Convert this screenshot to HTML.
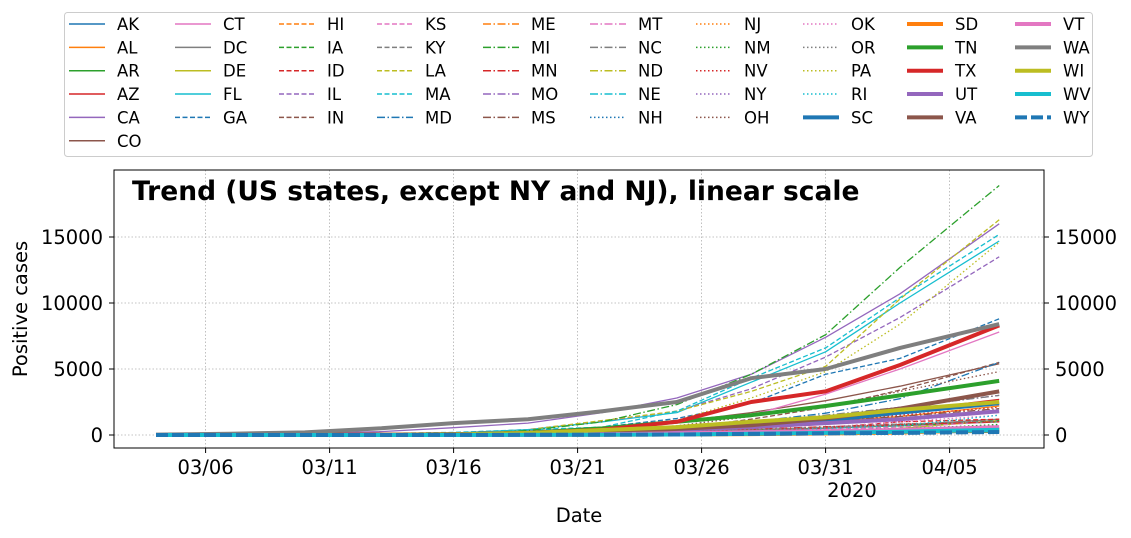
<!DOCTYPE html>
<html><head><meta charset="utf-8">
<style>
body{margin:0;background:#fff;}
svg{display:block;font-family:"DejaVu Sans","Liberation Sans",sans-serif;}
</style></head>
<body>
<svg id="chart" width="1131" height="538" viewBox="0 0 1131 538" xmlns="http://www.w3.org/2000/svg">
<rect x="0" y="0" width="1131" height="538" fill="#fff"/>
<g id="grid"></g>
<g id="series"></g>
<rect x="114" y="170" width="930" height="278" fill="none" stroke="#000" stroke-width="1"/>
<g id="axes"></g>
<text x="132" y="200" font-size="26.5" font-weight="bold">Trend (US states, except NY and NJ), linear scale</text>
<text transform="translate(27,309) rotate(-90)" text-anchor="middle" font-size="19.5">Positive cases</text>
<text x="579" y="522" text-anchor="middle" font-size="19.5">Date</text>
<text x="852" y="497" text-anchor="middle" font-size="19.5">2020</text>
<rect x="64.5" y="12.5" width="1028" height="144" rx="3" fill="#fff" stroke="#ccc"/>
<g id="legend"></g>
</svg>
<script>
const days = [0,3,6,9,12,15,18,21,24,27,30,34]; // days since 03/04
const states = ["AK","AL","AR","AZ","CA","CO","CT","DC","DE","FL","GA","HI","IA","ID","IL","IN","KS","KY","LA","MA","MD","ME","MI","MN","MO","MS","MT","NC","ND","NE","NH","NJ","NM","NV","NY","OH","OK","OR","PA","RI","SC","SD","TN","TX","UT","VA","VT","WA","WI","WV","WY"];
const vAK=[0,0,0,1,3,12,30,70,110,130,160,200];
const vAL=[0,0,0,5,30,70,200,400,750,1000,1400,2200];
const vAR=[0,0,0,5,20,60,150,300,410,520,700,1000];
const vAZ=[0,0,1,9,20,40,150,400,770,1300,1800,2700];
const vCA=[50,80,130,250,550,900,1700,2800,4600,7400,10700,16000];
const vCO=[0,2,15,50,130,280,600,1000,1700,2600,3700,5400];
const vCT=[0,0,1,5,40,100,330,1000,1500,3100,5000,7800];
const vDC=[0,0,2,10,20,70,120,230,340,500,750,1200];
const vDE=[0,0,0,1,10,30,60,120,230,320,500,1100];
const vFL=[3,10,20,50,150,400,1000,1700,4000,6300,10000,14700];
const vGA=[2,5,15,40,120,290,600,1250,2400,4600,5800,8800];
const vHI=[0,0,0,2,7,20,50,100,150,220,320,400];
const vIA=[0,0,10,15,20,40,90,150,300,420,620,1100];
const vID=[0,0,0,0,5,20,50,120,260,530,1000,1200];
const vIL=[4,7,15,50,100,420,1050,1800,3500,5900,8900,13500];
const vIN=[0,1,5,15,30,60,200,480,1200,2100,3400,5500];
const vKS=[0,0,1,5,10,40,70,130,260,430,620,1000];
const vKY=[0,0,5,15,25,40,100,160,400,590,830,1000];
const vLA=[0,0,1,30,140,400,1100,1800,3300,5200,10300,16300];
const vMA=[2,8,90,120,200,400,600,1800,4300,6600,10400,15200];
const vMD=[0,2,6,12,40,110,250,420,990,1650,2750,5500];
const vME=[0,0,0,1,15,50,100,150,220,300,380,500];
const vMI=[0,0,2,20,50,330,1000,2300,4600,7600,12700,18900];
const vMN=[0,1,3,15,50,120,170,290,440,630,790,1000];
const vMO=[0,0,1,2,10,50,150,350,840,1350,2100,3000];
const vMS=[0,0,0,1,10,50,200,380,670,1070,1400,2000];
const vMT=[0,0,0,2,7,15,30,60,150,200,270,330];
const vNC=[1,2,7,17,40,100,300,600,1000,1500,2100,3000];
const vND=[0,0,0,1,1,20,30,40,90,130,170,250];
const vNE=[0,0,3,10,18,30,40,60,100,170,250,500];
const vNH=[0,2,4,7,15,40,70,140,210,370,500,750];
const vNJ=null;
const vNM=[0,0,0,3,15,35,60,110,210,300,420,800];
const vNV=[0,0,3,10,50,100,200,320,740,1100,1500,2100];
const vNY=null;
const vOH=[0,0,0,5,50,120,350,700,1400,2200,3300,4800];
const vOK=[0,0,1,2,10,40,60,200,400,600,1000,1500];
const vOR=[0,0,10,30,50,80,140,250,400,600,830,1100];
const vPA=[0,0,10,40,80,190,500,1100,2800,4800,8400,14600];
const vRI=[0,2,3,8,20,40,80,140,250,490,700,1500];
const vSC=[0,0,2,12,30,80,200,420,770,1100,1700,2400];
const vSD=[0,0,0,9,10,11,20,40,70,110,190,400];
const vTN=[0,1,3,20,50,150,500,1000,1500,2200,3000,4100];
const vTX=[1,3,15,40,60,150,400,1000,2500,3300,5300,8300];
const vUT=[0,0,0,5,30,80,180,400,600,900,1200,1800];
const vVA=[0,1,10,20,50,100,220,460,740,1250,2000,3300];
const vVT=[0,0,1,2,10,20,50,120,210,290,390,600];
const vWA=[30,100,200,500,900,1200,1800,2500,4300,5000,6600,8400];
const vWI=[0,0,1,10,40,150,380,600,1000,1350,1900,2500];
const vWV=[0,0,0,0,1,5,15,40,100,160,250,400];
const vWY=[0,0,0,0,5,15,25,40,80,120,160,230];
const values={AK:vAK,AL:vAL,AR:vAR,AZ:vAZ,CA:vCA,CO:vCO,CT:vCT,DC:vDC,DE:vDE,FL:vFL,GA:vGA,HI:vHI,IA:vIA,ID:vID,IL:vIL,IN:vIN,KS:vKS,KY:vKY,LA:vLA,MA:vMA,MD:vMD,ME:vME,MI:vMI,MN:vMN,MO:vMO,MS:vMS,MT:vMT,NC:vNC,ND:vND,NE:vNE,NH:vNH,NJ:vNJ,NM:vNM,NV:vNV,NY:vNY,OH:vOH,OK:vOK,OR:vOR,PA:vPA,RI:vRI,SC:vSC,SD:vSD,TN:vTN,TX:vTX,UT:vUT,VA:vVA,VT:vVT,WA:vWA,WI:vWI,WV:vWV,WY:vWY};
const yTicks=[0,5000,10000,15000];
const xTickDays=[2,7,12,17,22,27,32];
const xTickLabels=["03/06","03/11","03/16","03/21","03/26","03/31","04/05"];

const NS="http://www.w3.org/2000/svg";
const colors=["#1f77b4","#ff7f0e","#2ca02c","#d62728","#9467bd","#8c564b","#e377c2","#7f7f7f","#bcbd22","#17becf"];
const styles=[{w:1.3,d:null},{w:1.3,d:"5,2.5"},{w:1.3,d:"8,2.5,1.5,2.5"},{w:1.3,d:"1.5,2.5"},{w:4,d:null},{w:4,d:"12,4"}];
const xS=d=>156+d*24.8;
const yS=v=>435-v*0.0132;
function mk(tag,attrs,parent){const e=document.createElementNS(NS,tag);for(const k in attrs)e.setAttribute(k,attrs[k]);parent.appendChild(e);return e;}
const grid=document.getElementById('grid'),axes=document.getElementById('axes'),ser=document.getElementById('series'),leg=document.getElementById('legend');
yTicks.forEach(t=>{const y=yS(t);
 const g=mk('line',{x1:114,x2:1044,y1:y,y2:y,stroke:'#b0b0b0','stroke-width':0.8,'stroke-dasharray':'1.5,2'},grid);
 
 
 [[109,114,1055,'end'],[1044,1049,1055,'start']].forEach(([a,b,tx,an])=>{
  const l=mk('line',{x1:a,x2:b,y1:y,y2:y,stroke:'#000'},axes);
  
  
  const tt=mk('text',{x:an==='end'?103:tx,y:y+7,'text-anchor':an,'font-size':19.5},axes);
  tt.textContent=t;
  
  
 });
});
xTickDays.forEach((d,i)=>{const x=xS(d);
 const g=mk('line',{x1:x,x2:x,y1:170,y2:448,stroke:'#b0b0b0','stroke-width':0.8,'stroke-dasharray':'1.5,2'},grid);
 
 
 const l=mk('line',{x1:x,x2:x,y1:448,y2:453,stroke:'#000'},axes);
 
 
 const t=mk('text',{x:x,y:474,'text-anchor':'middle','font-size':19.5},axes);
 t.textContent=xTickLabels[i];
 
 
});
const legX=[117,223,327,425,531,638,744,851,955,1063];
states.forEach((s,i)=>{
 const c=colors[i%10],st=styles[Math.floor(i/10)];
 const vals=values[s];
 if(vals){
  const pts=vals.map((v,j)=>xS(days[j]).toFixed(1)+','+yS(v).toFixed(1)).join(' ');
  const p=mk('polyline',{points:pts,fill:'none',stroke:c,'stroke-width':st.w,'stroke-linejoin':'round'},ser);
  if(st.d)p.setAttribute('stroke-dasharray',st.d);
  
  
 }
 let col,row;
 if(i<6){col=0;row=i;}else{col=1+Math.floor((i-6)/5);row=(i-6)%5;}
 const y=24+row*23.35,tx=legX[col];
 const g=mk('g',{},leg);
 
 
 const l=mk('line',{x1:tx-48,x2:tx-12,y1:y,y2:y,stroke:c,'stroke-width':st.w===4?4:1.5},g);
 if(st.d)l.setAttribute('stroke-dasharray',st.d);
 const t=mk('text',{x:tx,y:y+6,'font-size':16.5},g);
 t.textContent=s;
});
</script>
</body></html>
